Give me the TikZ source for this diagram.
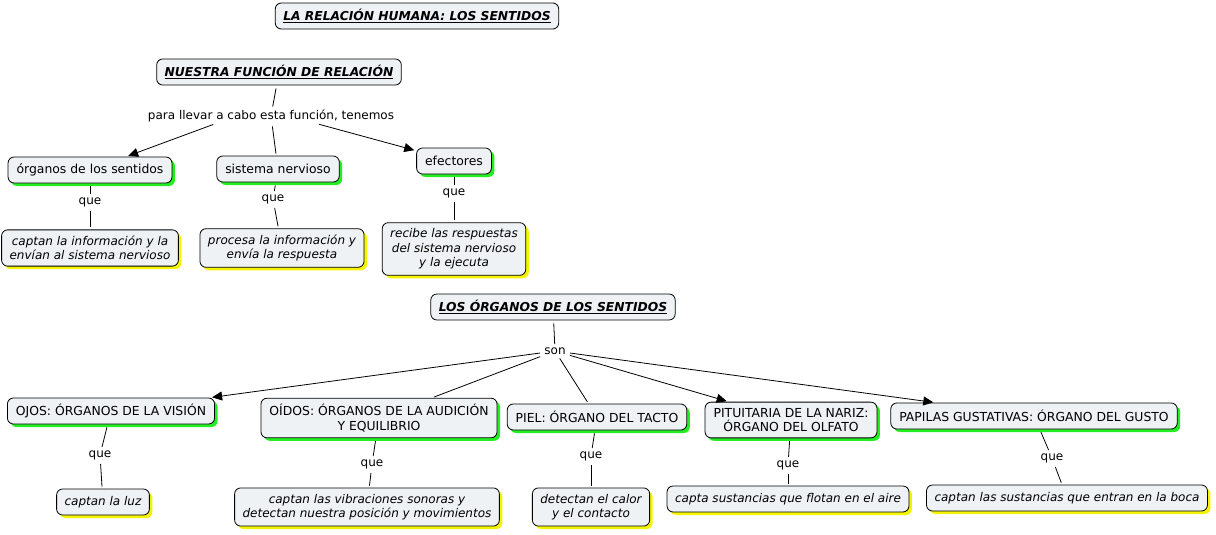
\documentclass[tikz,border=0pt]{standalone}
\usepackage{fontspec}
\setmainfont{DejaVu Sans}
\usepackage{xcolor}
\usepackage{tikz}
\usetikzlibrary{arrows.meta,shadows}

\definecolor{relleno}{HTML}{EEF2F4}
\definecolor{verde}{HTML}{22EE22}
\definecolor{amarillo}{HTML}{F4F400}

\tikzset{
  concepto/.style={draw,rounded corners=6pt,fill=relleno,line width=0.8pt,
    inner xsep=8pt,inner ysep=6pt,minimum height=26pt,align=center},
  titulo/.style={concepto,font=\fontsize{12.3}{14.5}\selectfont\bfseries\itshape},
  organo/.style={concepto,inner xsep=8.5pt,font=\fontsize{12.4}{14.5}\selectfont,
    drop shadow={shadow xshift=3pt,shadow yshift=-3pt,fill=verde,opacity=1}},
  accion/.style={concepto,font=\fontsize{12}{14.5}\selectfont\itshape,
    drop shadow={shadow xshift=3pt,shadow yshift=-3pt,fill=amarillo,opacity=1}},
  enlace/.style={inner sep=1pt},
  flecha/.style={-{Triangle[length=10pt,width=9pt]}}
}

\begin{document}
\begin{tikzpicture}[x=1pt,y=1pt,shorten <=3pt,shorten >=2pt,line width=0.8pt,
  font=\fontsize{12}{14.5}\selectfont]
\useasboundingbox (0,0) rectangle (1216,-535);

\node (tit) [titulo] at (417,-16) {\underline{LA RELACIÓN HUMANA: LOS SENTIDOS}};

% funcion de relacion
\node (nfr) [titulo] at (279,-72) {\underline{NUESTRA FUNCIÓN DE RELACIÓN}};
\node (ptl) [enlace,below of=nfr,node distance=44pt,xshift=-8pt] {para llevar a cabo esta función, tenemos};
\node (org) [organo] at (90,-170) {órganos de los sentidos};
\node (sn) [organo] at (278,-169) {sistema nervioso};
\node (ef) [organo] at (454,-161) {efectores};
\node (q1) [enlace,below of=org,node distance=32pt] {que};
\node (q2) [enlace,below of=sn,node distance=30pt,xshift=-5pt] {que};
\node (q3) [enlace,below of=ef,node distance=32pt] {que};
\node (d1) [accion,below of=q1,node distance=46pt] {captan la información y la\\envían al sistema nervioso};
\node (d2) [accion,below of=q2,node distance=49pt,xshift=9pt] {procesa la información y\\envía la respuesta};
\node (d3) [accion,below of=q3,node distance=56pt] {recibe las respuestas\\del sistema nervioso\\y la ejecuta};

% organos de los sentidos
\node (los) [titulo] at (553,-307) {\underline{LOS ÓRGANOS DE LOS SENTIDOS}};
\node (son) [enlace,below of=los,node distance=44pt,xshift=2pt] {son};
\node (ojos) [organo] at (111,-411) {OJOS: ÓRGANOS DE LA VISIÓN};
\node (oid) [organo] at (379,-418) {OÍDOS: ÓRGANOS DE LA AUDICIÓN\\Y EQUILIBRIO};
\node (piel) [organo] at (597,-417) {PIEL: ÓRGANO DEL TACTO};
\node (pit) [organo] at (791,-420) {PITUITARIA DE LA NARIZ:\\ÓRGANO DEL OLFATO};
\node (pap) [organo] at (1034,-416) {PAPILAS GUSTATIVAS: ÓRGANO DEL GUSTO};
\node (q4) [enlace,below of=ojos,node distance=44pt,xshift=-11pt] {que};
\node (q5) [enlace,below of=oid,node distance=46pt,xshift=-7pt] {que};
\node (q6) [enlace,below of=piel,node distance=39pt,xshift=-6pt] {que};
\node (q7) [enlace,below of=pit,node distance=45pt,xshift=-3pt] {que};
\node (q8) [enlace,below of=pap,node distance=42pt,xshift=18pt] {que};
\node (d4) [accion,below of=q4,node distance=47pt,xshift=3pt] {captan la luz};
\node (d5) [accion,below of=q5,node distance=43pt,xshift=-5pt] {captan las vibraciones sonoras y\\detectan nuestra posición y movimientos};
\node (d6) [accion,below of=q6,node distance=51pt] {detectan el calor\\y el contacto};
\node (d7) [accion,below of=q7,node distance=34pt] {capta sustancias que flotan en el aire};
\node (d8) [accion,below of=q8,node distance=40pt,xshift=15pt] {captan las sustancias que entran en la boca};

\path
(nfr) edge (ptl)
([xshift=-55pt]ptl.south) edge [flecha] (org)
(ptl) edge (sn)
([xshift=45pt]ptl.south) edge [flecha] (ef)
(org) edge (q1)
(q1) edge (d1)
(sn) edge (q2)
(q2) edge (d2)
(ef) edge (q3)
(q3) edge (d3);

\path
(los) edge (son)
(son) edge [flecha] (ojos)
	edge (oid)
	edge (piel)
	edge [flecha] (pit)
	edge [flecha] (pap)
(ojos) edge (q4)
(q4) edge (d4)
(oid) edge (q5)
(q5) edge (d5)
(piel) edge (q6)
(q6) edge (d6)
(pit) edge (q7)
(q7) edge (d7)
(pap) edge (q8)
(q8) edge (d8);
\end{tikzpicture}
\end{document}
